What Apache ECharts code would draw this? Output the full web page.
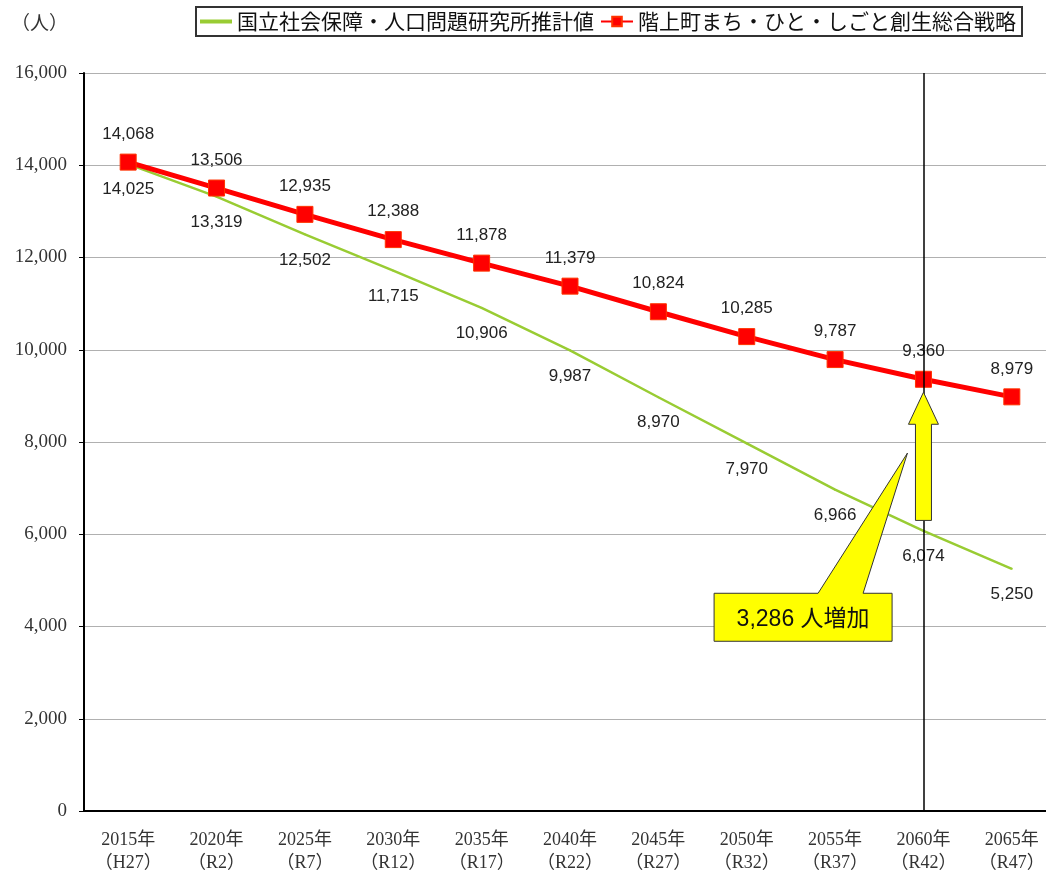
<!DOCTYPE html>
<html>
<head>
<meta charset="utf-8">
<script src="https://cdn.jsdelivr.net/npm/echarts@6/dist/echarts.min.js"></script>
<style>
  html, body { margin: 0; padding: 0; background: #fff; overflow: hidden; }
  #chart { width: 1056px; height: 877px; }
</style>
</head>
<body>
<div id="chart"></div>
<script>
const categories = ["2015年\n（H27）", "2020年\n（R2）", "2025年\n（R7）", "2030年\n（R12）",
  "2035年\n（R17）", "2040年\n（R22）", "2045年\n（R27）", "2050年\n（R32）",
  "2055年\n（R37）", "2060年\n（R42）", "2065年\n（R47）"];

// 国立社会保障・人口問題研究所推計値
const ipssValues = [14025, 13319, 12502, 11715, 10906, 9987, 8970, 7970, 6966, 6074, 5250];
// 階上町まち・ひと・しごと創生総合戦略
const strategyValues = [14068, 13506, 12935, 12388, 11878, 11379, 10824, 10285, 9787, 9360, 8979];

const yMin = 0;
const yMax = 16000;
const yStep = 2000;

const seriesNames = ["国立社会保障・人口問題研究所推計値", "階上町まち・ひと・しごと創生総合戦略"];
const markIndex = 9;           // 2060年 の縦線
const calloutText = "3,286 人増加";

const serif = "'Liberation Serif', 'Noto Sans CJK JP', serif";
const sans = "'Liberation Sans', 'Noto Sans CJK JP', sans-serif";

const myChart = echarts.init(document.getElementById("chart"));

const fmt = v => v.toLocaleString("en-US");

const option = {
  animation: false,
  title: {
    text: "（人）",
    left: 6,
    top: 8,
    textStyle: { fontSize: 19, fontWeight: "normal", color: "#333", fontFamily: "'Noto Sans CJK JP'" }
  },
  legend: {
    left: 196,
    top: 7,
    padding: [4, 6, 4, 4],
    borderColor: "#333",
    borderWidth: 2,
    itemGap: 6,
    itemWidth: 32,
    itemHeight: 12,
    textStyle: { fontSize: 21, color: "#111", fontFamily: "'Noto Sans CJK JP'" },
    data: [
      { name: seriesNames[0], icon: "path://M0,0L40,0L40,5L0,5Z" },
      { name: seriesNames[1] }
    ]
  },
  // 右端は画面外まで続く（div を少し広くしてはみ出させる）
  grid: { left: 84, top: 73, right: 0, bottom: 66, outerBoundsMode: "none" },
  xAxis: {
    type: "category",
    data: categories,
    axisLine: { lineStyle: { color: "#000", width: 2 } },
    axisTick: { inside: true, length: 6, lineStyle: { color: "#000", width: 2 } },
    axisLabel: { margin: 18, fontSize: 18, lineHeight: 23, color: "#333", fontFamily: serif }
  },
  yAxis: {
    type: "value",
    min: yMin,
    max: yMax,
    interval: yStep,
    axisLine: { show: true, lineStyle: { color: "#000", width: 2 } },
    axisTick: { show: true, length: 5, lineStyle: { color: "#000" } },
    axisLabel: { margin: 17, fontSize: 19, color: "#333", fontFamily: serif, formatter: fmt },
    splitLine: { lineStyle: { color: "#b0b0b0", width: 1 } }
  },
  series: [{
    name: seriesNames[0],
    type: "line",
    data: ipssValues,
    symbol: "circle",
    symbolSize: 2,
    lineStyle: { color: "#99cc33", width: 2.5 },
    itemStyle: { color: "#99cc33" },
    label: {
      show: true,
      position: "bottom",
      distance: 16,
      fontSize: 17,
      color: "#222",
      fontFamily: sans,
      formatter: p => fmt(p.value)
    },
    z: 2
  }, {
    name: seriesNames[1],
    type: "line",
    data: strategyValues,
    symbol: "rect",
    symbolSize: 16,
    lineStyle: { color: "#ff0000", width: 5 },
    itemStyle: { color: "#ff0000", borderColor: "#ff3300", borderWidth: 1 },
    label: {
      show: true,
      position: "top",
      distance: 11,
      fontSize: 17,
      color: "#222",
      fontFamily: sans,
      formatter: p => fmt(p.value)
    },
    markLine: {
      silent: true,
      symbol: "none",
      label: { show: false },
      lineStyle: { color: "#000", width: 1.5, type: "solid" },
      data: [{ xAxis: markIndex }]
    },
    z: 3
  }]
};

myChart.setOption(option);

// 注記（矢印と吹き出し）はデータ座標から位置を求める
const px = (i, v) => myChart.convertToPixel({ xAxisIndex: 0, yAxisIndex: 0 }, [i, v]);

const tip = px(markIndex, strategyValues[markIndex]);
const base = px(markIndex, 6300);
const ax = tip[0];
const tipY = tip[1] + 13;
const headY = tipY + 32;
const arrowPts = [
  [ax, tipY], [ax + 15, headY], [ax + 8, headY], [ax + 8, base[1]],
  [ax - 8, base[1]], [ax - 8, headY], [ax - 15, headY]
];

const boxC = px(8, 4200);
const boxW = 178, boxH = 48;
const bx = boxC[0] - 32 - boxW / 2;
const by = boxC[1] - boxH / 2;
const pTip = px(markIndex, 7760);
const calloutPts = [
  [bx, by], [bx + 104, by], [pTip[0] - 16, pTip[1]], [bx + 149, by],
  [bx + boxW, by], [bx + boxW, by + boxH], [bx, by + boxH]
];

myChart.setOption({
  graphic: [{
    type: "polygon",
    shape: { points: arrowPts },
    style: { fill: "#ffff00", stroke: "#333", lineWidth: 1 },
    z: 100
  }, {
    type: "polygon",
    shape: { points: calloutPts },
    style: { fill: "#ffff00", stroke: "#333", lineWidth: 1 },
    z: 100
  }, {
    type: "text",
    x: bx + boxW / 2,
    y: by + boxH / 2 + 2,
    style: {
      text: calloutText,
      align: "center",
      verticalAlign: "middle",
      fill: "#111",
      font: "23px 'Liberation Sans', 'Noto Sans CJK JP', sans-serif"
    },
    z: 101
  }]
});
</script>
</body>
</html>
